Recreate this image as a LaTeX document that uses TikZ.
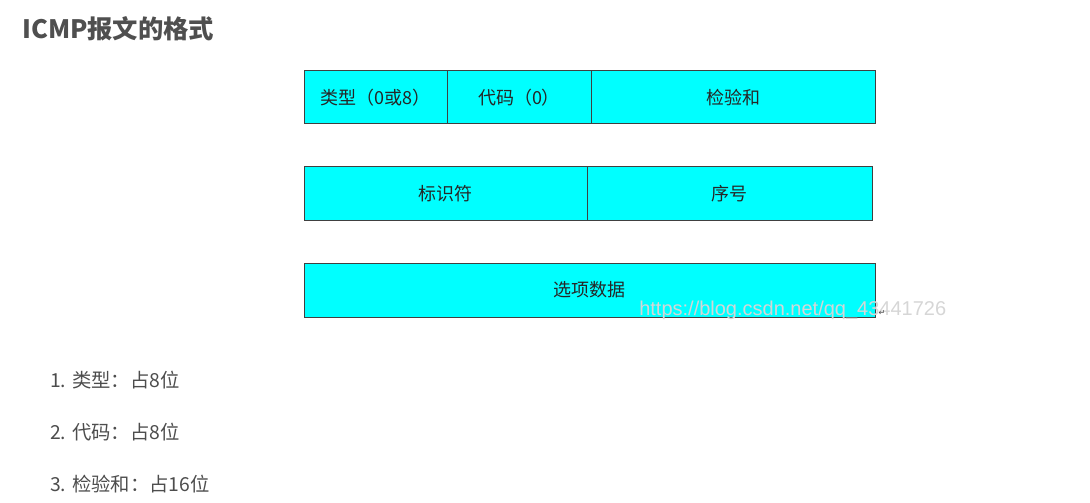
\documentclass[tikz,border=0pt]{standalone}
\usepackage{fontspec}
\usepackage{xcolor}
\usepackage{tikz}
\usetikzlibrary{positioning}
\setmainfont{Liberation Sans}
\newfontfamily\cjk{Noto Sans CJK SC}
\newfontfamily\arrowfont{DejaVu Sans}
\definecolor{fieldcyan}{HTML}{00FFFF}
\definecolor{titlegray}{HTML}{4F4F4F}
\definecolor{textgray}{HTML}{4D4D4D}
\definecolor{markgray}{HTML}{D6D6D6}
\tikzstyle{field} = [rectangle, draw=black!75, line width=0.75pt, fill=fieldcyan, minimum height=39.75pt, inner sep=0pt, outer sep=0pt, text centered, font=\cjk\fontsize{13.5}{15}\selectfont, text=black!85]
\tikzstyle{item} = [anchor=west, inner sep=0pt, font=\cjk\fontsize{14.5}{17}\selectfont, text=textgray]

\begin{document}
\begin{tikzpicture}[x=0.75pt, y=-0.75pt]
    \useasboundingbox (0,0) rectangle (1090,503);
    % Title
    \node[anchor=west, inner sep=0pt, font=\cjk\bfseries\fontsize{19}{22}\selectfont, text=titlegray] (title) at (22,29) {ICMP报文的格式};

    % Header fields
    \node[field, minimum width=107.25pt, anchor=north west] (type) at (304,71) {类型（0或8）};
    \node[field, minimum width=108pt, right=0pt of type] (code) {代码（0）};
    \node[field, minimum width=213pt, right=0pt of code] (checksum) {检验和};

    \node[field, minimum width=212.25pt, anchor=north west] (ident) at (304,167) {标识符};
    \node[field, minimum width=213.75pt, right=0pt of ident] (seq) {序号};

    \node[field, minimum width=428.25pt, minimum height=40.5pt, anchor=north west] (data) at (304,263) {选项数据};

    % Watermark
    \node[anchor=west, inner sep=0pt, font=\fontsize{15}{17}\selectfont, text=markgray] (mark) at (639,310) {https://blog.csdn.net/qq\_43441726};
    \node[inner sep=0pt, font=\arrowfont\fontsize{6}{7}\selectfont, text=black!70] (ret) at (882,313) {↵};

    % List
    \node[item] (item1) at (50,380) {1. 类型：占8位};
    \node[item] (item2) at (50,432) {2. 代码：占8位};
    \node[item] (item3) at (50,484) {3. 检验和：占16位};
\end{tikzpicture}
\end{document}
